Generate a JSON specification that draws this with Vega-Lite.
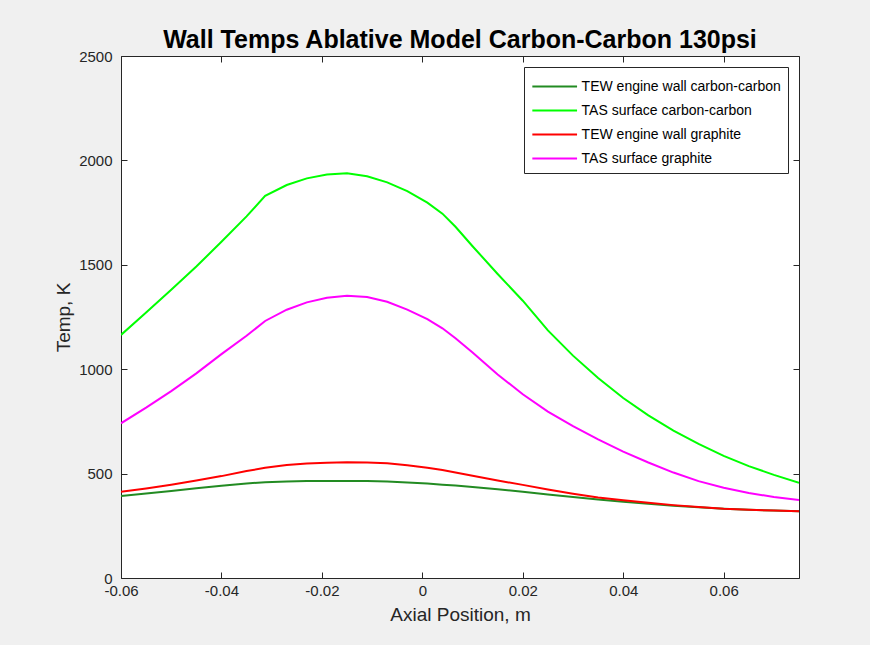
{
  "$schema": "https://vega.github.io/schema/vega-lite/v6.json",
  "width": 678,
  "height": 522,
  "autosize": {"type": "none"},
  "padding": {"left": 121, "top": 56, "right": 71, "bottom": 67},
  "background": "#f0f0f0",
  "title": {"text": "Wall Temps Ablative Model Carbon-Carbon 130psi", "fontSize": 25, "fontWeight": "bold", "font": "Liberation Sans", "color": "#000000", "anchor": "middle", "offset": 7, "baseline": "alphabetic", "dy": 31},
  "config": {
    "font": "Liberation Sans",
    "view": {"stroke": "#262626", "strokeWidth": 1, "fill": "white"},
    "axis": {"domain": false, "grid": false, "ticks": true, "tickSize": -6, "tickColor": "#262626", "tickWidth": 1, "labelFlush": false, "labelOverlap": false, "labelColor": "#262626", "labelFontSize": 15, "titleColor": "#262626", "titleFontSize": 19, "titleFontWeight": "normal", "labelFont": "Liberation Sans", "titleFont": "Liberation Sans"}
  },
  "datasets": {
    "temps": [
      {"x": -0.06, "T": 393, "series": "TEW engine wall carbon-carbon"},
      {"x": -0.055, "T": 405, "series": "TEW engine wall carbon-carbon"},
      {"x": -0.05, "T": 417, "series": "TEW engine wall carbon-carbon"},
      {"x": -0.045, "T": 430, "series": "TEW engine wall carbon-carbon"},
      {"x": -0.04, "T": 442, "series": "TEW engine wall carbon-carbon"},
      {"x": -0.035, "T": 453, "series": "TEW engine wall carbon-carbon"},
      {"x": -0.0313, "T": 459, "series": "TEW engine wall carbon-carbon"},
      {"x": -0.027, "T": 462, "series": "TEW engine wall carbon-carbon"},
      {"x": -0.023, "T": 464, "series": "TEW engine wall carbon-carbon"},
      {"x": -0.019, "T": 465, "series": "TEW engine wall carbon-carbon"},
      {"x": -0.015, "T": 465, "series": "TEW engine wall carbon-carbon"},
      {"x": -0.011, "T": 464, "series": "TEW engine wall carbon-carbon"},
      {"x": -0.007, "T": 462, "series": "TEW engine wall carbon-carbon"},
      {"x": -0.003, "T": 457, "series": "TEW engine wall carbon-carbon"},
      {"x": 0.001, "T": 452, "series": "TEW engine wall carbon-carbon"},
      {"x": 0.004, "T": 447, "series": "TEW engine wall carbon-carbon"},
      {"x": 0.0066, "T": 443, "series": "TEW engine wall carbon-carbon"},
      {"x": 0.01, "T": 436, "series": "TEW engine wall carbon-carbon"},
      {"x": 0.015, "T": 425, "series": "TEW engine wall carbon-carbon"},
      {"x": 0.02, "T": 413, "series": "TEW engine wall carbon-carbon"},
      {"x": 0.025, "T": 400, "series": "TEW engine wall carbon-carbon"},
      {"x": 0.03, "T": 388, "series": "TEW engine wall carbon-carbon"},
      {"x": 0.035, "T": 376, "series": "TEW engine wall carbon-carbon"},
      {"x": 0.04, "T": 365, "series": "TEW engine wall carbon-carbon"},
      {"x": 0.045, "T": 355, "series": "TEW engine wall carbon-carbon"},
      {"x": 0.05, "T": 346, "series": "TEW engine wall carbon-carbon"},
      {"x": 0.055, "T": 339, "series": "TEW engine wall carbon-carbon"},
      {"x": 0.06, "T": 332, "series": "TEW engine wall carbon-carbon"},
      {"x": 0.065, "T": 327, "series": "TEW engine wall carbon-carbon"},
      {"x": 0.07, "T": 323, "series": "TEW engine wall carbon-carbon"},
      {"x": 0.075, "T": 320, "series": "TEW engine wall carbon-carbon"},

      {"x": -0.06, "T": 1164, "series": "TAS surface carbon-carbon"},
      {"x": -0.055, "T": 1271, "series": "TAS surface carbon-carbon"},
      {"x": -0.05, "T": 1380, "series": "TAS surface carbon-carbon"},
      {"x": -0.045, "T": 1492, "series": "TAS surface carbon-carbon"},
      {"x": -0.04, "T": 1610, "series": "TAS surface carbon-carbon"},
      {"x": -0.035, "T": 1732, "series": "TAS surface carbon-carbon"},
      {"x": -0.0313, "T": 1830, "series": "TAS surface carbon-carbon"},
      {"x": -0.027, "T": 1882, "series": "TAS surface carbon-carbon"},
      {"x": -0.023, "T": 1914, "series": "TAS surface carbon-carbon"},
      {"x": -0.019, "T": 1932, "series": "TAS surface carbon-carbon"},
      {"x": -0.015, "T": 1938, "series": "TAS surface carbon-carbon"},
      {"x": -0.011, "T": 1924, "series": "TAS surface carbon-carbon"},
      {"x": -0.007, "T": 1895, "series": "TAS surface carbon-carbon"},
      {"x": -0.003, "T": 1853, "series": "TAS surface carbon-carbon"},
      {"x": 0.001, "T": 1798, "series": "TAS surface carbon-carbon"},
      {"x": 0.004, "T": 1745, "series": "TAS surface carbon-carbon"},
      {"x": 0.0066, "T": 1682, "series": "TAS surface carbon-carbon"},
      {"x": 0.01, "T": 1589, "series": "TAS surface carbon-carbon"},
      {"x": 0.015, "T": 1456, "series": "TAS surface carbon-carbon"},
      {"x": 0.02, "T": 1328, "series": "TAS surface carbon-carbon"},
      {"x": 0.025, "T": 1186, "series": "TAS surface carbon-carbon"},
      {"x": 0.03, "T": 1065, "series": "TAS surface carbon-carbon"},
      {"x": 0.035, "T": 958, "series": "TAS surface carbon-carbon"},
      {"x": 0.04, "T": 862, "series": "TAS surface carbon-carbon"},
      {"x": 0.045, "T": 779, "series": "TAS surface carbon-carbon"},
      {"x": 0.05, "T": 706, "series": "TAS surface carbon-carbon"},
      {"x": 0.055, "T": 642, "series": "TAS surface carbon-carbon"},
      {"x": 0.06, "T": 585, "series": "TAS surface carbon-carbon"},
      {"x": 0.065, "T": 536, "series": "TAS surface carbon-carbon"},
      {"x": 0.07, "T": 494, "series": "TAS surface carbon-carbon"},
      {"x": 0.075, "T": 456, "series": "TAS surface carbon-carbon"},

      {"x": -0.06, "T": 413, "series": "TEW engine wall graphite"},
      {"x": -0.055, "T": 429, "series": "TEW engine wall graphite"},
      {"x": -0.05, "T": 447, "series": "TEW engine wall graphite"},
      {"x": -0.045, "T": 467, "series": "TEW engine wall graphite"},
      {"x": -0.04, "T": 488, "series": "TEW engine wall graphite"},
      {"x": -0.035, "T": 512, "series": "TEW engine wall graphite"},
      {"x": -0.0313, "T": 528, "series": "TEW engine wall graphite"},
      {"x": -0.027, "T": 541, "series": "TEW engine wall graphite"},
      {"x": -0.023, "T": 548, "series": "TEW engine wall graphite"},
      {"x": -0.019, "T": 552, "series": "TEW engine wall graphite"},
      {"x": -0.015, "T": 554, "series": "TEW engine wall graphite"},
      {"x": -0.011, "T": 553, "series": "TEW engine wall graphite"},
      {"x": -0.007, "T": 549, "series": "TEW engine wall graphite"},
      {"x": -0.003, "T": 540, "series": "TEW engine wall graphite"},
      {"x": 0.001, "T": 528, "series": "TEW engine wall graphite"},
      {"x": 0.004, "T": 517, "series": "TEW engine wall graphite"},
      {"x": 0.0066, "T": 505, "series": "TEW engine wall graphite"},
      {"x": 0.01, "T": 490, "series": "TEW engine wall graphite"},
      {"x": 0.015, "T": 467, "series": "TEW engine wall graphite"},
      {"x": 0.02, "T": 446, "series": "TEW engine wall graphite"},
      {"x": 0.025, "T": 424, "series": "TEW engine wall graphite"},
      {"x": 0.03, "T": 404, "series": "TEW engine wall graphite"},
      {"x": 0.035, "T": 386, "series": "TEW engine wall graphite"},
      {"x": 0.04, "T": 372, "series": "TEW engine wall graphite"},
      {"x": 0.045, "T": 360, "series": "TEW engine wall graphite"},
      {"x": 0.05, "T": 349, "series": "TEW engine wall graphite"},
      {"x": 0.055, "T": 340, "series": "TEW engine wall graphite"},
      {"x": 0.06, "T": 332, "series": "TEW engine wall graphite"},
      {"x": 0.065, "T": 327, "series": "TEW engine wall graphite"},
      {"x": 0.07, "T": 323, "series": "TEW engine wall graphite"},
      {"x": 0.075, "T": 320, "series": "TEW engine wall graphite"},

      {"x": -0.06, "T": 741, "series": "TAS surface graphite"},
      {"x": -0.055, "T": 816, "series": "TAS surface graphite"},
      {"x": -0.05, "T": 895, "series": "TAS surface graphite"},
      {"x": -0.045, "T": 980, "series": "TAS surface graphite"},
      {"x": -0.04, "T": 1072, "series": "TAS surface graphite"},
      {"x": -0.035, "T": 1160, "series": "TAS surface graphite"},
      {"x": -0.0313, "T": 1231, "series": "TAS surface graphite"},
      {"x": -0.027, "T": 1285, "series": "TAS surface graphite"},
      {"x": -0.023, "T": 1320, "series": "TAS surface graphite"},
      {"x": -0.019, "T": 1342, "series": "TAS surface graphite"},
      {"x": -0.015, "T": 1352, "series": "TAS surface graphite"},
      {"x": -0.011, "T": 1346, "series": "TAS surface graphite"},
      {"x": -0.007, "T": 1323, "series": "TAS surface graphite"},
      {"x": -0.003, "T": 1285, "series": "TAS surface graphite"},
      {"x": 0.001, "T": 1240, "series": "TAS surface graphite"},
      {"x": 0.004, "T": 1196, "series": "TAS surface graphite"},
      {"x": 0.0066, "T": 1148, "series": "TAS surface graphite"},
      {"x": 0.01, "T": 1080, "series": "TAS surface graphite"},
      {"x": 0.015, "T": 975, "series": "TAS surface graphite"},
      {"x": 0.02, "T": 880, "series": "TAS surface graphite"},
      {"x": 0.025, "T": 797, "series": "TAS surface graphite"},
      {"x": 0.03, "T": 727, "series": "TAS surface graphite"},
      {"x": 0.035, "T": 664, "series": "TAS surface graphite"},
      {"x": 0.04, "T": 605, "series": "TAS surface graphite"},
      {"x": 0.045, "T": 553, "series": "TAS surface graphite"},
      {"x": 0.05, "T": 505, "series": "TAS surface graphite"},
      {"x": 0.055, "T": 464, "series": "TAS surface graphite"},
      {"x": 0.06, "T": 432, "series": "TAS surface graphite"},
      {"x": 0.065, "T": 407, "series": "TAS surface graphite"},
      {"x": 0.07, "T": 388, "series": "TAS surface graphite"},
      {"x": 0.075, "T": 373, "series": "TAS surface graphite"}
    ]
  },
  "data": {"name": "temps"},
  "layer": [
    {
      "mark": {"type": "line", "strokeWidth": 2, "clip": true},
      "encoding": {
        "x": {"field": "x", "type": "quantitative",
          "scale": {"domain": [-0.06, 0.075], "nice": false, "zero": false},
          "axis": {"orient": "bottom", "values": [-0.06, -0.04, -0.02, 0, 0.02, 0.04, 0.06], "labelExpr": "datum.value == 0 ? '0' : (datum.value < 0 ? '-' : '') + format(abs(datum.value), '.2f')", "labelPadding": 11, "title": "Axial Position, m", "titlePadding": 7}},
        "y": {"field": "T", "type": "quantitative",
          "scale": {"domain": [0, 2500], "nice": false, "zero": false},
          "axis": {"orient": "left", "values": [0, 500, 1000, 1500, 2000, 2500], "format": "d", "labelPadding": 15, "title": "Temp, K", "titlePadding": 5}},
        "color": {"field": "series", "type": "nominal",
          "scale": {"domain": ["TEW engine wall carbon-carbon", "TAS surface carbon-carbon", "TEW engine wall graphite", "TAS surface graphite"], "range": ["#228B22", "#00FF00", "#FF0000", "#FF00FF"]},
          "legend": {"orient": "none", "legendX": 403, "legendY": 11, "title": null, "symbolType": "M-2,0L2,0", "symbolSize": 500, "symbolOffset": 11.2, "symbolStrokeWidth": 2, "labelFontSize": 14, "labelFont": "Liberation Sans", "labelColor": "#000000", "strokeColor": "#262626", "fillColor": "#FFFFFF", "padding": 7, "rowPadding": 4, "labelOffset": 14.4, "labelLimit": 300}}
      }
    },
    {
      "mark": {"type": "line", "opacity": 0},
      "encoding": {
        "x": {"field": "x", "type": "quantitative",
          "scale": {"domain": [-0.06, 0.075], "nice": false, "zero": false},
          "axis": {"orient": "top", "values": [-0.06, -0.04, -0.02, 0, 0.02, 0.04, 0.06], "labels": false, "title": null}},
        "y": {"field": "T", "type": "quantitative",
          "scale": {"domain": [0, 2500], "nice": false, "zero": false},
          "axis": {"orient": "right", "values": [0, 500, 1000, 1500, 2000, 2500], "labels": false, "title": null}},
        "detail": {"field": "series"}
      }
    }
  ],
  "resolve": {"axis": {"x": "independent", "y": "independent"}}
}
